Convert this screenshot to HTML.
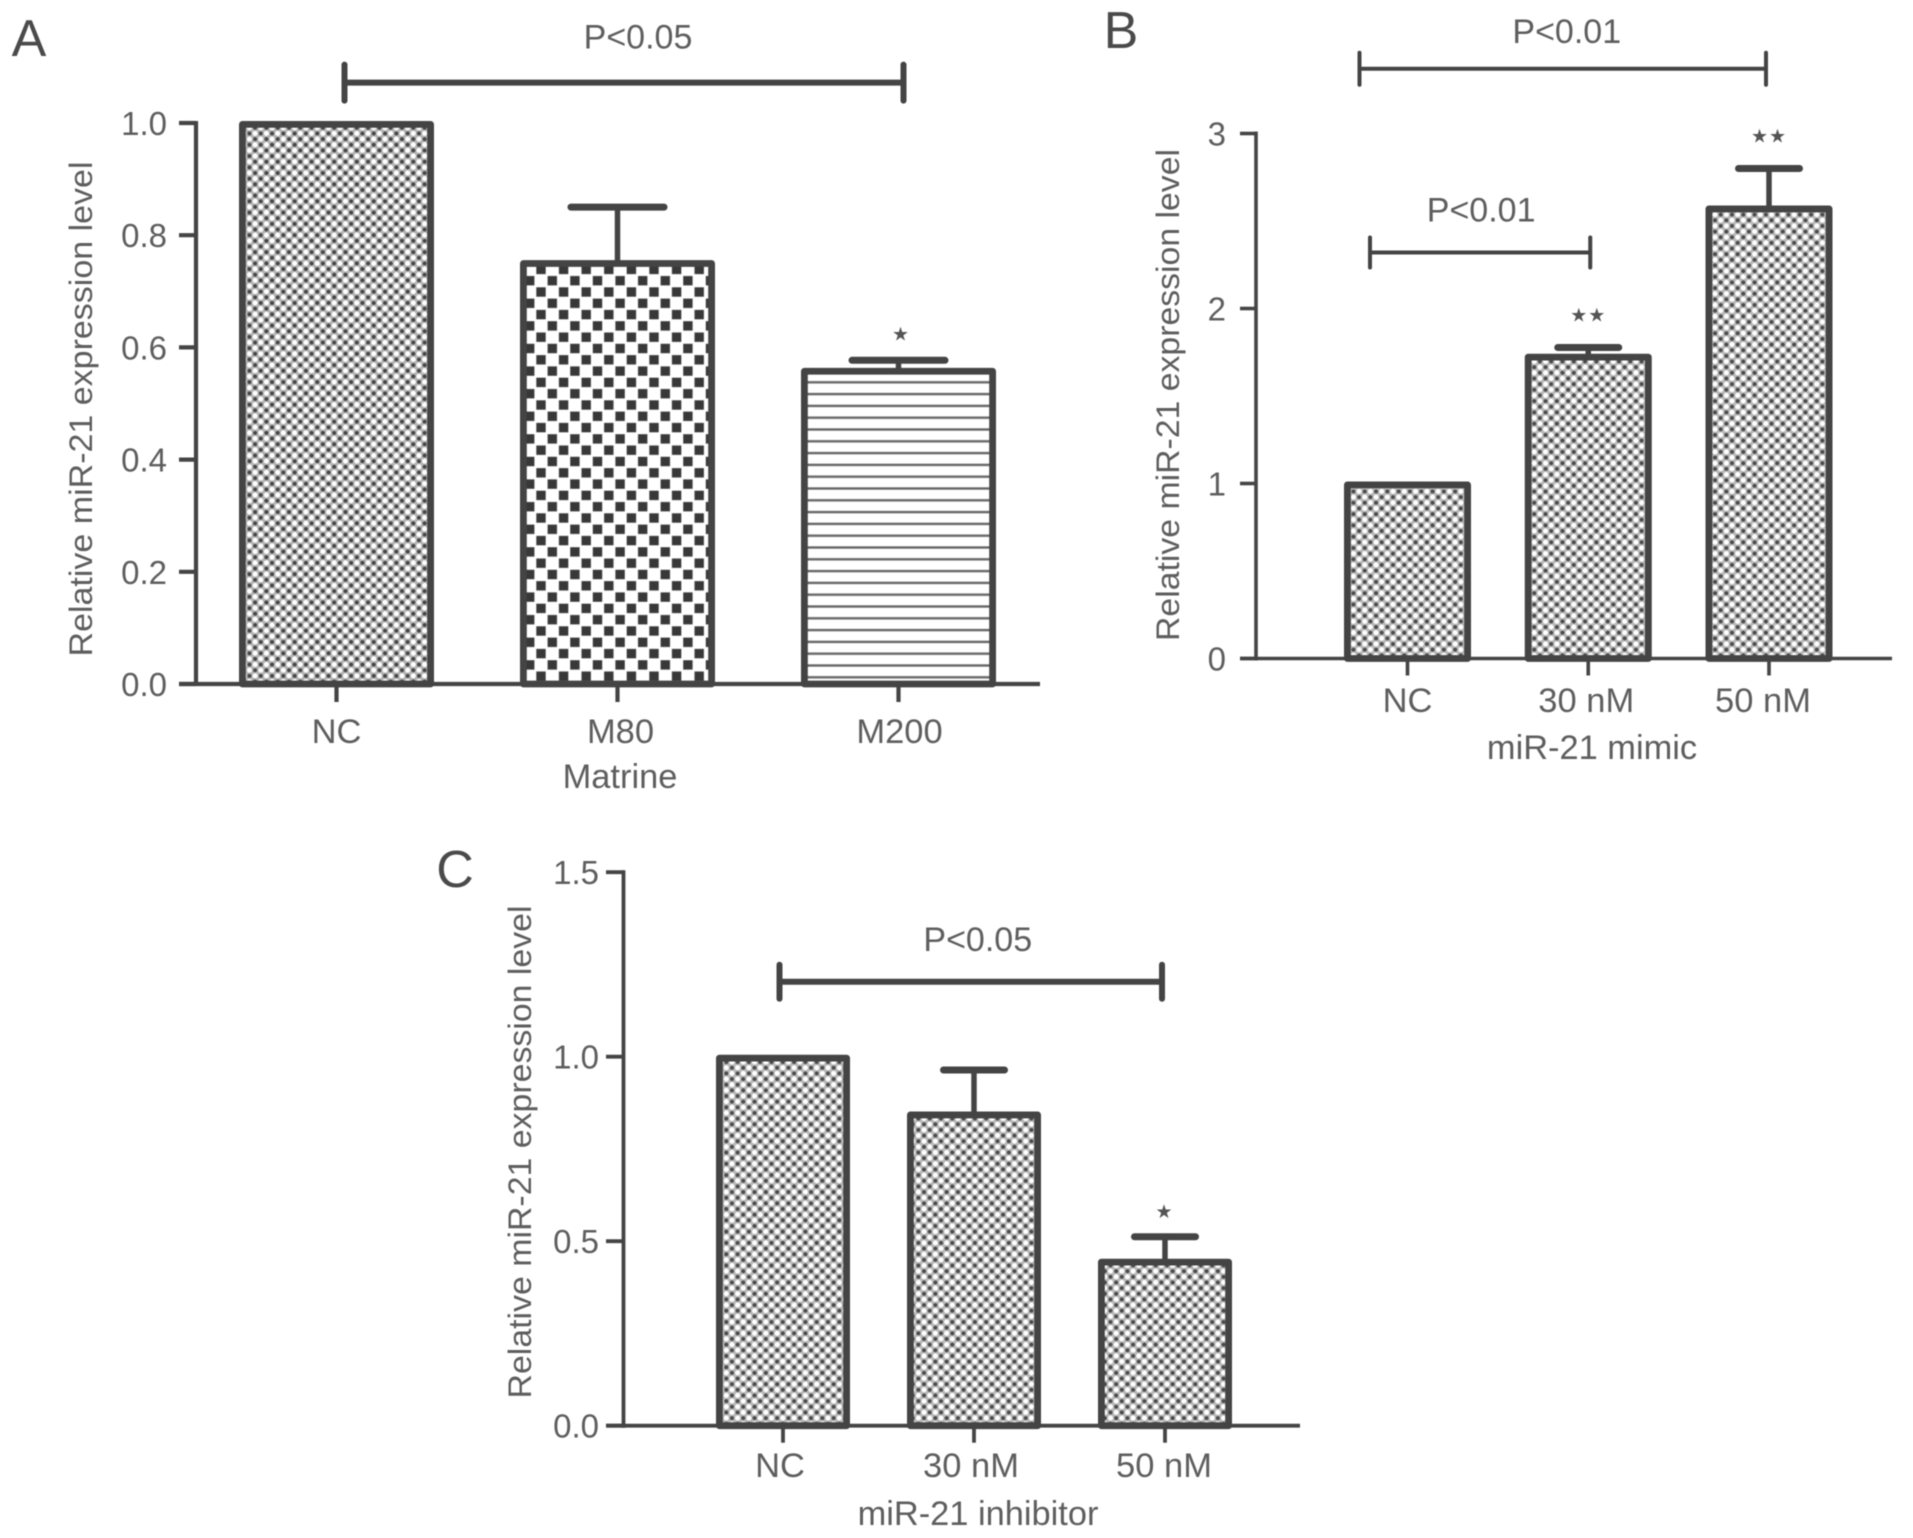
<!DOCTYPE html>
<html lang="en">
<head>
<meta charset="utf-8">
<title>Relative miR-21 expression level</title>
<style>
html,body{margin:0;padding:0;background:#fff;width:1913px;height:1538px;overflow:hidden}
svg{display:block;filter:blur(.6px)}
text{font-family:"Liberation Sans",sans-serif;fill:#5e5e5e}
</style>
</head>
<body>
<svg id="figure" xmlns="http://www.w3.org/2000/svg" width="1913" height="1538" viewBox="0 0 1913 1538">
  <defs>
    <pattern id="dots-a" patternUnits="userSpaceOnUse" width="11.3" height="11.3" patternTransform="translate(241,125)">
      <rect width="11.3" height="11.3" fill="#b4b4b4"/>
      <circle cx="2.8" cy="2.8" r="2" fill="#454545"/>
      <circle cx="8.45" cy="8.45" r="2" fill="#454545"/>
      <circle cx="8.45" cy="2.8" r="2.5" fill="#fff"/>
      <circle cx="2.8" cy="8.45" r="2.5" fill="#fff"/>
    </pattern>
    <pattern id="dots-b" patternUnits="userSpaceOnUse" width="11.3" height="11.3" patternTransform="translate(1345,483)">
      <rect width="11.3" height="11.3" fill="#b8b8b8"/>
      <circle cx="2.8" cy="2.8" r="2" fill="#4a4a4a"/>
      <circle cx="8.45" cy="8.45" r="2" fill="#4a4a4a"/>
      <circle cx="8.45" cy="2.8" r="2.5" fill="#fff"/>
      <circle cx="2.8" cy="8.45" r="2.5" fill="#fff"/>
    </pattern>
    <pattern id="checks" patternUnits="userSpaceOnUse" width="22.6" height="22.6" patternTransform="translate(541,292)">
      <rect width="22.6" height="22.6" fill="#fff"/>
      <rect x="-4.7" y="-4.7" width="9.4" height="9.4" fill="#383838"/>
      <rect x="17.9" y="-4.7" width="9.4" height="9.4" fill="#383838"/>
      <rect x="-4.7" y="17.9" width="9.4" height="9.4" fill="#383838"/>
      <rect x="17.9" y="17.9" width="9.4" height="9.4" fill="#383838"/>
      <rect x="6.6" y="6.6" width="9.4" height="9.4" fill="#383838"/>
    </pattern>
    <pattern id="stripes" patternUnits="userSpaceOnUse" width="11.8" height="11.8" patternTransform="translate(0,382.3)">
      <rect width="11.8" height="11.8" fill="#fff"/>
      <rect y="-1.2" width="11.8" height="2.4" fill="#666"/>
      <rect y="10.6" width="11.8" height="2.4" fill="#666"/>
    </pattern>
  </defs>
</svg>
<script>
// Panel A data
const panelACategories = ['NC', 'M80', 'M200'];
const panelAValues = [1.0, 0.752, 0.56];
const panelAErrors = [0, 0.098, 0.017];
const panelAYTicks = [0, 0.2, 0.4, 0.6, 0.8, 1.0];
const panelAYLabels = ['0.0', '0.2', '0.4', '0.6', '0.8', '1.0'];
const panelAStars = ['', '', '★'];

// Panel B data
const panelBCategories = ['NC', '30 nM', '50 nM'];
const panelBValues = [1.0, 1.73, 2.577];
const panelBErrors = [0, 0.047, 0.223];
const panelBYTicks = [0, 1, 2, 3];
const panelBYLabels = ['0', '1', '2', '3'];
const panelBStars = ['', '★★', '★★'];

// Panel C data
const panelCCategories = ['NC', '30 nM', '50 nM'];
const panelCValues = [1.0, 0.846, 0.447];
const panelCErrors = [0, 0.118, 0.065];
const panelCYTicks = [0, 0.5, 1.0, 1.5];
const panelCYLabels = ['0.0', '0.5', '1.0', '1.5'];
const panelCStars = ['', '', '★'];

const svg = document.getElementById('figure');
const NS = 'http://www.w3.org/2000/svg';
const INK = '#444';

function make(tag, attrs, parent) {
  const node = document.createElementNS(NS, tag);
  for (const key in attrs) node.setAttribute(key, attrs[key]);
  parent.appendChild(node);
  return node;
}

function drawPanel(cfg, categories, values, errors, yTicks, yLabels, stars, fills) {
  const group = make('g', {}, svg);
  
  

  const y = v => cfg.y0 - v * cfg.yUnit;
  const x = i => cfg.firstCenter + i * cfg.step;

  const letter = make('text', {x: cfg.letter[0], y: cfg.letter[1], 'font-size': 52, 'text-anchor': 'middle', fill: '#444', style: 'fill:#4a4a4a'}, group);
  
  
  letter.textContent = cfg.id.toUpperCase();

  categories.forEach((cat, i) => {
    const sw = 6.8;
    const top = y(values[i]) - 2;
    const cx = x(i);
    if (errors[i] > 0) {
      const ey = y(values[i] + errors[i]);
      const stem = make('line', {x1: cx, x2: cx, y1: ey, y2: top + 3, stroke: INK, 'stroke-width': 5.5}, group);
      
      
      const cap = make('line', {x1: cx - cfg.capHalf + 3.5, x2: cx + cfg.capHalf - 3.5, y1: ey, y2: ey, stroke: INK, 'stroke-width': 7, 'stroke-linecap': 'round'}, group);
      
      
    }
    const bar = make('rect', {
      x: cx - cfg.barWidth / 2 + sw / 2,
      y: top + sw / 2,
      width: cfg.barWidth - sw,
      height: Math.max(0, cfg.y0 - top - sw / 2),
      fill: 'url(#' + fills[i] + ')',
      stroke: INK,
      'stroke-width': sw,
      'stroke-linejoin': 'round'
    }, group);
    
    

    if (stars[i]) {
      const star = make('text', {
        x: cx + cfg.starDx,
        y: y(values[i] + errors[i]) - cfg.starGap + 7,
        'font-size': 19,
        'text-anchor': 'middle',
        'letter-spacing': stars[i].length > 1 ? 1 : 0,
        style: 'font-family:"DejaVu Sans",sans-serif;fill:#555'
      }, group);
      
      
      star.textContent = stars[i];
    }

    const tick = make('line', {x1: cx, x2: cx, y1: cfg.y0, y2: cfg.y0 + cfg.tickDown, stroke: INK, 'stroke-width': cfg.axisWidth}, group);
    
    

    const label = make('text', {x: cx + cfg.xLabelDx[i], y: cfg.xLabelY, 'font-size': 34.5, 'text-anchor': 'middle'}, group);
    
    
    label.textContent = cat;
  });

  const yAxis = make('line', {x1: cfg.axisX, x2: cfg.axisX, y1: y(yTicks[yTicks.length - 1]) - 2, y2: cfg.y0 + 2, stroke: INK, 'stroke-width': cfg.axisWidth}, group);
  
  

  const xAxis = make('line', {x1: cfg.tickLeft, x2: cfg.axisRight, y1: cfg.y0, y2: cfg.y0, stroke: INK, 'stroke-width': cfg.axisWidth}, group);
  
  

  yTicks.forEach((t, i) => {
    const tick = make('line', {x1: cfg.tickLeft, x2: cfg.axisX, y1: y(t), y2: y(t), stroke: INK, 'stroke-width': cfg.axisWidth}, group);
    
    
    const label = make('text', {x: cfg.yLabelRight, y: y(t) + 12, 'font-size': 33, 'text-anchor': 'end'}, group);
    
    
    label.textContent = yLabels[i];
  });

  const yTitle = make('text', {
    transform: 'translate(' + cfg.yTitle[0] + ',' + cfg.yTitle[1] + ') rotate(-90)',
    'font-size': 32,
    'text-anchor': 'middle',
    textLength: cfg.yTitle[2],
    lengthAdjust: 'spacingAndGlyphs'
  }, group);
  
  
  yTitle.textContent = 'Relative miR-21 expression level';

  const xTitle = make('text', {x: cfg.xTitle[1], y: cfg.xTitle[2], 'font-size': 34.4, 'text-anchor': 'middle'}, group);
  
  
  xTitle.textContent = cfg.xTitle[0];

  cfg.brackets.forEach((b, i) => {
    const x1 = x(b.from) + b.dx1;
    const x2 = x(b.to) + b.dx2;
    const by = y(b.value);
    const h = make('line', {x1: x1, x2: x2, y1: by, y2: by, stroke: INK, 'stroke-width': b.width}, group);
    
    
    const left = make('line', {x1: x1, x2: x1, y1: by - b.half, y2: by + b.half, stroke: INK, 'stroke-width': b.width, 'stroke-linecap': 'round'}, group);
    
    
    const right = make('line', {x1: x2, x2: x2, y1: by - b.half, y2: by + b.half, stroke: INK, 'stroke-width': b.width, 'stroke-linecap': 'round'}, group);
    
    
    const t = make('text', {x: (x1 + x2) / 2 + b.textDx, y: by - b.textGap, 'font-size': 34, 'text-anchor': 'middle'}, group);
    
    
    t.textContent = b.text;
  });
}

drawPanel({
  id: 'a', letter: [29, 56], y0: 684, yUnit: 561, axisX: 196, tickLeft: 179, axisRight: 1040,
  axisWidth: 4.2, firstCenter: 336.5, step: 281, barWidth: 195, capHalf: 50, tickDown: 18,
  xLabelY: 743, xLabelDx: [0, 3, 1], yLabelRight: 167, yTitle: [92, 409, 495],
  xTitle: ['Matrine', 620, 788], starDx: 2, starGap: 27,
  brackets: [{from: 0, to: 2, dx1: 8, dx2: 5, value: 1.072, width: 6, half: 18, text: 'P<0.05', textDx: 14, textGap: 34}]
}, panelACategories, panelAValues, panelAErrors, panelAYTicks, panelAYLabels, panelAStars, ['dots-a', 'checks', 'stripes']);

drawPanel({
  id: 'b', letter: [1121, 48], y0: 658.5, yUnit: 175, axisX: 1256, tickLeft: 1240, axisRight: 1892,
  axisWidth: 3.6, firstCenter: 1407.5, step: 180.75, barWidth: 127, capHalf: 34, tickDown: 17,
  xLabelY: 712, xLabelDx: [0, -2, -6], yLabelRight: 1226, yTitle: [1179, 395, 492],
  xTitle: ['miR-21 mimic', 1592, 759], starDx: 0, starGap: 33,
  brackets: [
    {from: 0, to: 2, dx1: -48, dx2: -3, value: 3.37, width: 4, half: 16, text: 'P<0.01', textDx: 4, textGap: 26},
    {from: 0, to: 1, dx1: -37.5, dx2: 2, value: 2.32, width: 4, half: 15, text: 'P<0.01', textDx: 1, textGap: 31}
  ]
}, panelBCategories, panelBValues, panelBErrors, panelBYTicks, panelBYLabels, panelBStars, ['dots-b', 'dots-b', 'dots-b']);

drawPanel({
  id: 'c', letter: [455, 887], y0: 1425.7, yUnit: 369, axisX: 623.5, tickLeft: 606, axisRight: 1300,
  axisWidth: 3.8, firstCenter: 783, step: 191, barWidth: 134, capHalf: 34, tickDown: 17,
  xLabelY: 1477, xLabelDx: [-3, -3, -1], yLabelRight: 599, yTitle: [531, 1152, 493],
  xTitle: ['miR-21 inhibitor', 978, 1525], starDx: -1, starGap: 26,
  brackets: [{from: 0, to: 2, dx1: -3.5, dx2: -3, value: 1.203, width: 6, half: 17, text: 'P<0.05', textDx: 7, textGap: 31}]
}, panelCCategories, panelCValues, panelCErrors, panelCYTicks, panelCYLabels, panelCStars, ['dots-b', 'dots-b', 'dots-b']);
</script>
</body>
</html>
